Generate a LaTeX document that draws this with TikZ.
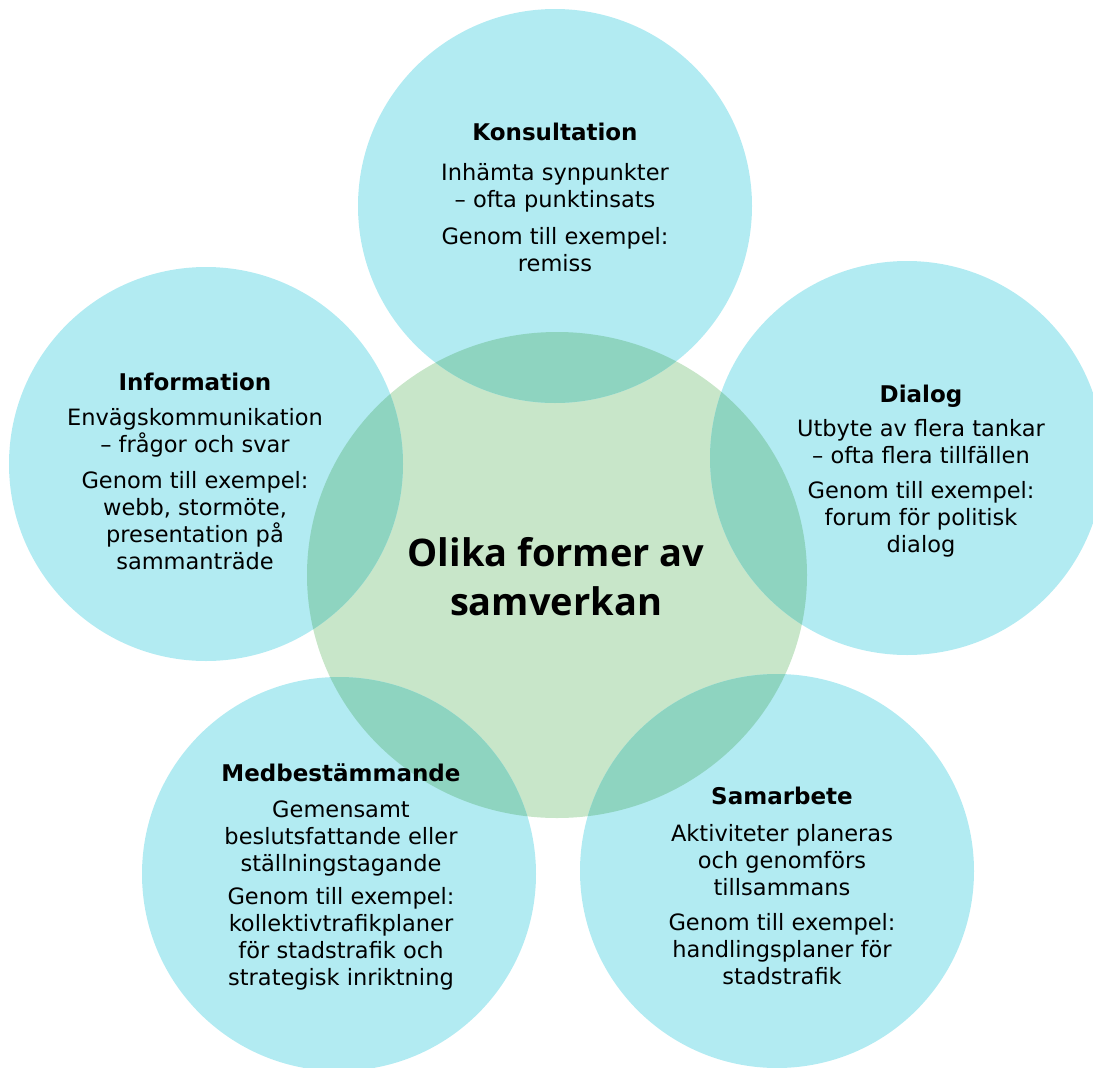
\documentclass[tikz,border=0pt]{standalone}
\usepackage{fontspec}
\setmainfont{DejaVu Sans}
\newfontfamily\titlefont{Open Sans}
\usepackage{tikz}
\usetikzlibrary{positioning}
\definecolor{bubbleblue}{HTML}{B2EBF2}
\definecolor{coregreen}{HTML}{C8E6C9}
\definecolor{mixteal}{HTML}{8ED4C0}
\newcommand{\bubblehead}[1]{{\bfseries\fontsize{23}{27}\selectfont #1}}
\tikzset{
	bubble/.style={circle,fill=bubbleblue,minimum size=394pt,inner sep=0pt},
	blurb/.style={align=center,inner sep=0pt,font=\fontsize{22.5}{27}\selectfont},
	corename/.style={align=center,inner sep=0pt,font=\titlefont\bfseries\fontsize{38}{49}\selectfont}
}

\begin{document}
\begin{tikzpicture}[x=1pt,y=-1pt]
			\useasboundingbox (0,0) rectangle (1093,1068);
			\fill[coregreen] (557,575) ellipse [x radius=250,y radius=243];
			\node[bubble] (kons) at (555,206) {};
			\node[bubble] (info) at (206,464) {};
			\node[bubble] (dial) at (907,458) {};
			\node[bubble] (medb) at (339,874) {};
			\node[bubble] (samb) at (777,871) {};
			% overlaps with the middle
			\begin{scope}
				\clip (557,575) ellipse [x radius=250,y radius=243];
				\foreach \c in {kons,info,dial,medb,samb}
					\fill[mixteal] (\c) circle [radius=197];
			\end{scope}
			\node[corename] (core) at (556,577) {Olika former av\\samverkan};
			\node[blurb] (kons-txt) at (555,197) {\bubblehead{Konsultation}\\[13pt]Inhämta synpunkter\\– ofta punktinsats\\[10pt]Genom till exempel:\\remiss};
			\node[blurb] (info-txt) at (195,471) {\bubblehead{Information}\\[8pt]Envägskommunikation\\– frågor och svar\\[9pt]Genom till exempel:\\webb, stormöte,\\presentation på\\sammanträde};
			\node[blurb] (dial-txt) at (921,471) {\bubblehead{Dialog}\\[7pt]Utbyte av flera tankar\\– ofta flera tillfällen\\[8pt]Genom till exempel:\\forum för politisk\\dialog};
			\node[blurb] (medb-txt) at (341,877) {\bubblehead{Medbestämmande}\\[9pt]Gemensamt\\beslutsfattande eller\\ställningstagande\\[6pt]Genom till exempel:\\kollektivtrafikplaner\\för stadstrafik och\\strategisk inriktning};
			\node[blurb] (samb-txt) at (782,886) {\bubblehead{Samarbete}\\[10pt]Aktiviteter planeras\\och genomförs\\tillsammans\\[8pt]Genom till exempel:\\handlingsplaner för\\stadstrafik};
		\end{tikzpicture}
\end{document}
